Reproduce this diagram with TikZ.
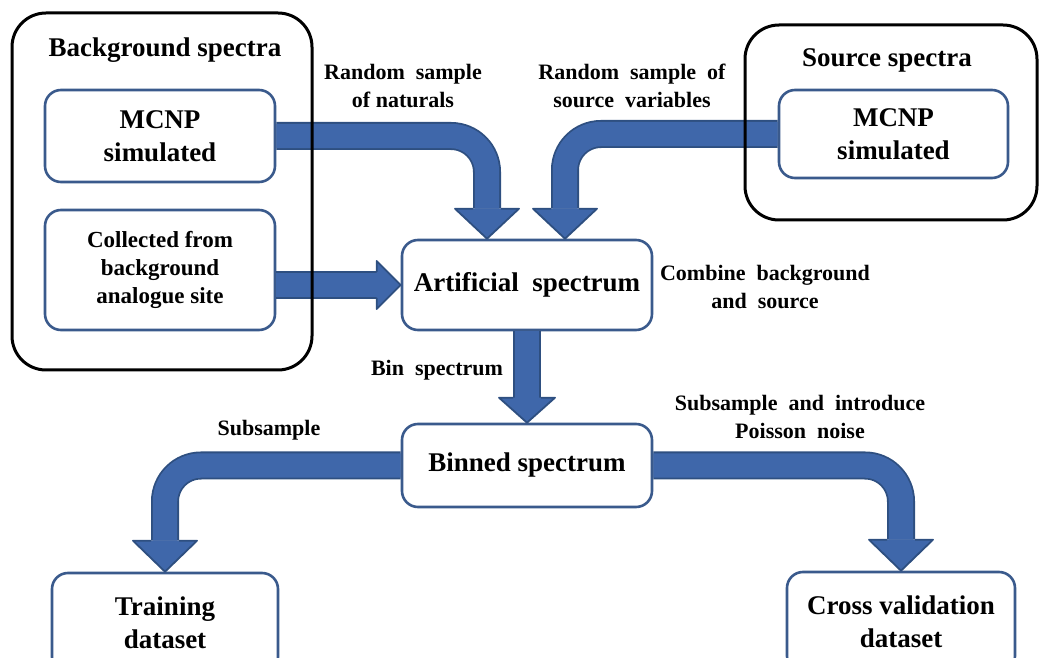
\documentclass[tikz,border=0pt]{standalone}
\usepackage{fontspec}
\setmainfont{Liberation Serif}
\usetikzlibrary{calc}
\definecolor{boxline}{HTML}{3A5A8C}
\definecolor{arrowfill}{HTML}{3F67AA}
\definecolor{arrowline}{HTML}{2E4F80}

% arrow heads: tip, half width, length (in px units)
\newcommand{\headdown}[3]{%
  \fill[arrowfill] ($(#1)+(-#2,-#3)$) -- ($(#1)+(#2,-#3)$) -- (#1) -- cycle;
  \draw[headline] ($(#1)+(-14,-#3)$) -- ($(#1)+(-#2,-#3)$) -- (#1) -- ($(#1)+(#2,-#3)$) -- ($(#1)+(14,-#3)$);}
\newcommand{\headright}[3]{%
  \fill[arrowfill] ($(#1)+(-#3,-#2)$) -- ($(#1)+(-#3,#2)$) -- (#1) -- cycle;
  \draw[headline] ($(#1)+(-#3,-13)$) -- ($(#1)+(-#3,-#2)$) -- (#1) -- ($(#1)+(-#3,#2)$) -- ($(#1)+(-#3,13)$);}

\begin{document}
\begin{tikzpicture}[x=0.5pt, y=-0.5pt,
    innerBox/.style={rectangle, rounded corners=8pt, draw=boxline, line width=1.3pt, fill=white, align=center, inner sep=0pt, minimum width=115pt, font=\bfseries\fontsize{13.5}{16.5}\selectfont},
    outerBox/.style={rectangle, rounded corners=17pt, draw=black, line width=1.5pt, inner sep=0pt},
    titleText/.style={font=\bfseries\fontsize{13.5}{16.5}\selectfont},
    labelText/.style={align=center, font=\bfseries\fontsize{11}{14}\selectfont},
    shaft/.style={draw=arrowline, line width=0.9pt, double=arrowfill, double distance=12.2pt, rounded corners=18pt},
    headline/.style={draw=arrowline, line width=0.9pt, line join=round}
]
    \useasboundingbox (0,0) rectangle (1041,658);

    \node[innerBox, minimum height=46pt] (bgsim) at (160,136) {MCNP\\simulated};
    \node[innerBox, minimum height=60pt, font=\bfseries\fontsize{11.5}{14.2}\selectfont] (bgsite) at (160,270) {Collected from\\background\\analogue site};
    \node[innerBox, minimum width=114.5pt, minimum height=44pt] (srcsim) at (893.5,134) {MCNP\\simulated};
    \node[innerBox, minimum width=125pt, minimum height=45pt] (art) at (527,285) {Artificial\ \ spectrum};
    \node[innerBox, minimum width=125pt, minimum height=41.5pt] (binned) at (527,465.5) {Binned spectrum};
    \node[innerBox, minimum width=113pt, minimum height=50pt] (train) at (165,623) {Training\\dataset};
    \node[innerBox, minimum width=114pt, minimum height=50pt] (cross) at (901,622) {Cross validation\\dataset};

    \coordinate (tipA) at ($(art.north)+(-40,0)$);
    \coordinate (tipB) at ($(art.north)+(38,0)$);

    % block arrows
    \draw[shaft] (bgsim.east) -- (bgsim.east -| tipA) -- ($(tipA)+(0,-30)$);
    \headdown{tipA}{32}{30}
    \draw[shaft] (srcsim.west) -- (srcsim.west -| tipB) -- ($(tipB)+(0,-30)$);
    \headdown{tipB}{32}{30}
    \draw[shaft] (art.west -| bgsite.east) -- ($(art.west)+(-24,0)$);
    \headright{art.west}{24}{24}
    \draw[shaft] (art.south) -- ($(binned.north)+(0,-25)$);
    \headdown{binned.north}{28}{25}
    \draw[shaft] (binned.west) -- (binned.west -| train.north) -- ($(train.north)+(0,-31)$);
    \headdown{train.north}{32}{31}
    \draw[shaft] (binned.east) -- (binned.east -| cross.north) -- ($(cross.north)+(0,-31)$);
    \headdown{cross.north}{32}{31}

    % group frames
    \node[outerBox, minimum width=150pt, minimum height=178.5pt] (bgframe) at (162,191.5) {};
    \node[outerBox, minimum width=146pt, minimum height=97.5pt] (srcframe) at (891,122.5) {};
    \node[titleText] (bgtitle) at (165,50) {Background spectra};
    \node[titleText] (srctitle) at (887,60) {Source spectra};

    \node[labelText] (lblnat) at (403,86) {Random\ \ sample\\of naturals};
    \node[labelText] (lblsrc) at (632,86) {Random\ \ sample\ \ of\\source\ \ variables};
    \node[labelText] (lblcomb) at (765,287) {Combine\ \ background\\and\ \ source};
    \node[labelText] (lblbin) at (437,370) {Bin\ \ spectrum};
    \node[labelText] (lblsub) at (269,430) {Subsample};
    \node[labelText] (lblpois) at (800,417) {Subsample\ \ and\ \ introduce\\Poisson\ \ noise};
\end{tikzpicture}
\end{document}
